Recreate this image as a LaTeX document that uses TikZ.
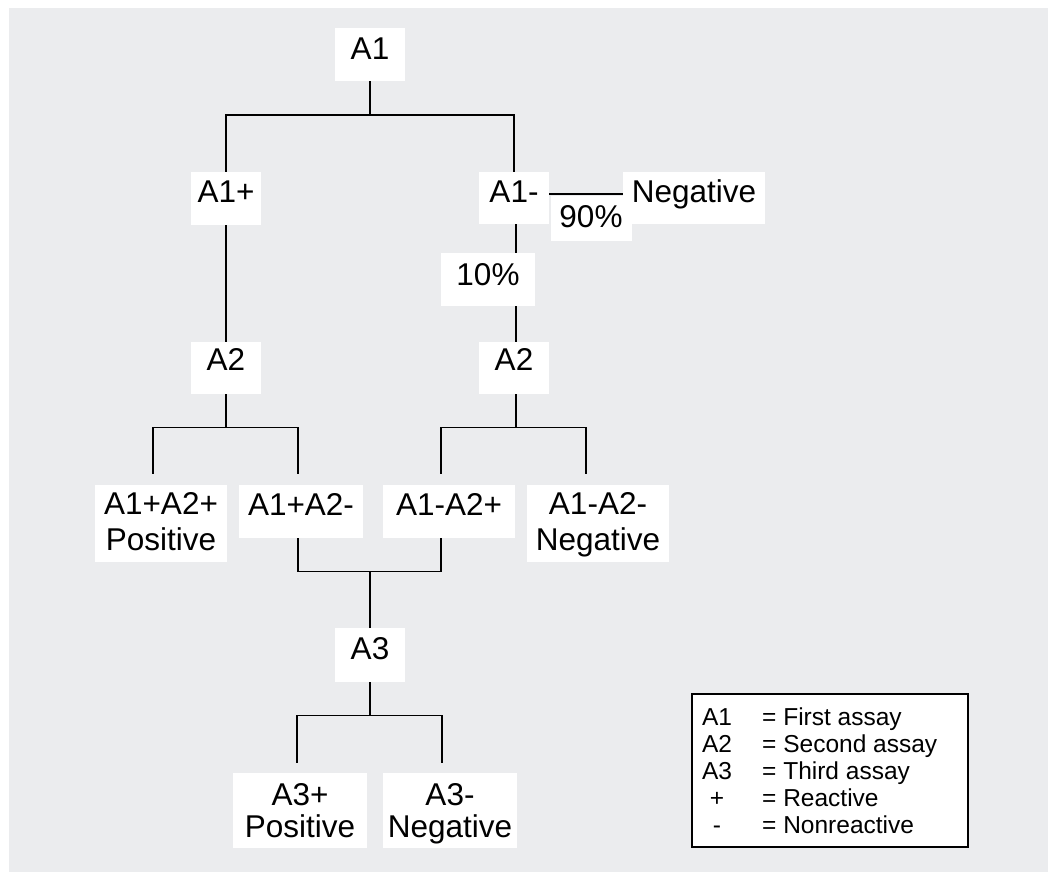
\documentclass[tikz,border=0pt]{standalone}
\usepackage{fontspec}
\setmainfont{Liberation Sans}
\definecolor{bggray}{RGB}{235,236,238}
\tikzset{
  conn/.style={draw=black, line width=1.8pt},
  box/.style={fill=white, inner sep=0pt, anchor=north, align=center,
    font=\fontsize{31.5}{36}\selectfont, text height=31pt, text depth=22pt},
  box2/.style={box, text height=65.5pt, text depth=11.5pt},
  box3/.style={box, font=\fontsize{31.5}{32}\selectfont, text height=64pt, text depth=11pt},
  legk/.style={anchor=base, inner sep=0pt, font=\fontsize{24.5}{27}\selectfont},
  legv/.style={anchor=base west, inner sep=0pt, font=\fontsize{24.5}{27}\selectfont}
}
\begin{document}
\begin{tikzpicture}[x=1pt,y=-1pt]
\useasboundingbox (0,0) rectangle (1049,872);
\fill[white] (0,0) rectangle (1049,872);
\fill[bggray] (9,8) rectangle (1048,872);

% nodes (top-centre positions)
\node[box, minimum width=70pt] (A1) at (370,28) {A1};
\node[box, minimum width=70pt, text height=30pt, text depth=23pt] (A1p) at (226,172) {A1+};
\node[box, minimum width=70pt, text height=30pt] (A1m) at (514,172) {A1-};
\node[box, minimum width=142pt, text height=30pt] (negT) at (694,172) {Negative};
\node[box, minimum width=81pt, text height=31pt, text depth=14pt] (p90) at (591,196) {90\%};
\node[box, minimum width=94pt, text height=32pt, text depth=21pt] (p10) at (488,253) {10\%};
\node[box, minimum width=70pt, text height=28pt, text depth=24pt] (A2L) at (226,342) {A2};
\node[box, minimum width=70pt, text height=28pt, text depth=24pt] (A2R) at (514,342) {A2};
\node[box2, minimum width=132pt] (r1) at (161,485) {A1+A2+\\Positive};
\node[box, minimum width=124pt, text height=30pt, text depth=23pt] (r2) at (301,485) {A1+A2-};
\node[box, minimum width=132pt, text height=30pt, text depth=23pt] (r3) at (449,485) {A1-A2+};
\node[box2, minimum width=142pt] (r4) at (598,485) {A1-A2-\\Negative};
\node[box, minimum width=70pt, text height=31pt, text depth=23pt] (A3) at (370,628) {A3};
\node[box3, minimum width=134pt] (s1) at (300,773) {A3+\\Positive};
\node[box3, minimum width=134pt] (s2) at (450,773) {A3-\\Negative};

% connectors
\draw[conn] (A1.south) -- ++(0,34) coordinate (j1);
\draw[conn] (j1) -| (A1p.north);
\draw[conn] (j1) -| (A1m.north);
\draw[conn] (A1p.south) -- (A2L.north);
\draw[conn] ([yshift=4pt]A1m.east) -- ([yshift=4pt]negT.west);
\draw[conn] ([xshift=2pt]A1m.south) -- ([xshift=2pt]A1m.south |- p10.north);
\draw[conn] ([xshift=2pt]A2R.north |- p10.south) -- ([xshift=2pt]A2R.north);

\draw[conn] (A2L.south) -- ++(0,33) coordinate (j2);
\draw[conn, shorten >=11pt] (j2) -| ([xshift=-8pt]r1.north);
\draw[conn, shorten >=11pt] (j2) -| ([xshift=-3pt]r2.north);

\draw[conn] ([xshift=2pt]A2R.south) -- ++(0,33) coordinate (j3);
\draw[conn, shorten >=11pt] (j3) -| ([xshift=-8pt]r3.north);
\draw[conn, shorten >=11pt] (j3) -| ([xshift=-12pt]r4.north);

\draw[conn] ([xshift=-3pt]r2.south) -- ++(0,33) -| ([xshift=-8pt]r3.south);
\draw[conn] (A3.north) -- ++(0,-57);

\draw[conn] (A3.south) -- ++(0,33) coordinate (j4);
\draw[conn, shorten >=10pt] (j4) -| ([xshift=-3pt]s1.north);
\draw[conn, shorten >=10pt] (j4) -| ([xshift=-8pt]s2.north);

% legend
\node[draw=black, line width=2pt, fill=white, minimum width=276pt, minimum height=153pt,
  inner sep=0pt, anchor=north west] (legend) at (691,693) {};
\foreach \k/\v [count=\i] in {A1/First assay, A2/Second assay, A3/Third assay, +/Reactive, -/Nonreactive} {
  \node[legk] (k\i) at ([shift={(26,{5+27*\i})}]legend.north west) {\k};
  \node[legv] (v\i) at ([shift={(71,{5+27*\i})}]legend.north west) {= \v};
}
\end{tikzpicture}
\end{document}
